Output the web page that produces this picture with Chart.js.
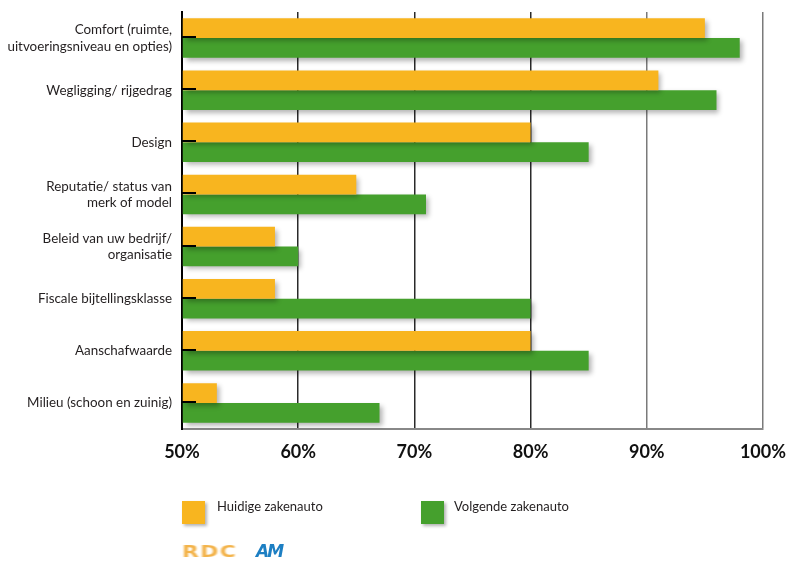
<!DOCTYPE html>
<html lang="nl">
<head>
<meta charset="utf-8">
<title>Zakenauto keuzefactoren</title>
<script src="https://cdn.jsdelivr.net/npm/chart.js@4/dist/chart.umd.min.js"></script>
<style>
    html, body { margin: 0; padding: 0; background: #fff; }
    #wrap { position: relative; width: 786px; height: 561px; }
    #chart { position: absolute; left: 0; top: 0; }
    .legend-item { position: absolute; font: 13px Lato, sans-serif; color: #231f20; }
    .legend-box { position: absolute; width: 23px; height: 23px; box-shadow: 2px 2px 3px rgba(0,0,0,0.3); }
    .logo-rdc { position: absolute; left: 182px; top: 543px; font: 900 15px "DejaVu Sans", sans-serif; letter-spacing: 1px;
        color: #f3b34a; transform: scaleX(1.45); transform-origin: left top; filter: blur(0.6px); }
    .logo-am { position: absolute; left: 256px; top: 541px; font: italic 900 17px "DejaVu Sans", sans-serif;
        color: #1d7fc3; letter-spacing: -2px; }
</style>
</head>
<body>
<div id="wrap">
    <canvas id="chart" width="786" height="561"></canvas>
    <div class="legend-box" style="left:182px; top:501px; background:#f8b51f;"></div>
    <div class="legend-item" style="left:217px; top:498px;">Huidige zakenauto</div>
    <div class="legend-box" style="left:421px; top:501px; background:#45a02d;"></div>
    <div class="legend-item" style="left:454px; top:498px;">Volgende zakenauto</div>
    <div class="logo-rdc">RDC</div>
    <div class="logo-am">AM</div>
</div>
<script>
// Categorieën en percentages per zakenauto
const categories = [
    ['Comfort (ruimte,', 'uitvoeringsniveau en opties)'],
    'Wegligging/ rijgedrag',
    'Design',
    ['Reputatie/ status van', 'merk of model'],
    ['Beleid van uw bedrijf/', 'organisatie'],
    'Fiscale bijtellingsklasse',
    'Aanschafwaarde',
    'Milieu (schoon en zuinig)'
];
const huidige = [95, 91, 80, 65, 58, 58, 80, 53];
const volgende = [98, 96, 85, 71, 60, 80, 85, 67];
const axisTicks = [50, 60, 70, 80, 90, 100];

const YELLOW = '#f8b51f';
const GREEN = '#45a02d';

// Zachte schaduw onder de balken
const barShadow = {
    id: 'barShadow',
    beforeDatasetsDraw(chart) {
        const ctx = chart.ctx;
        ctx.save();
        ctx.shadowColor = 'rgba(0, 0, 0, 0.3)';
        ctx.shadowBlur = 5;
        ctx.shadowOffsetX = 3;
        ctx.shadowOffsetY = 3;
    },
    afterDatasetsDraw(chart) {
        chart.ctx.restore();
    }
};

// Korte streepjes op de y-as tussen de twee balken
const innerTicks = {
    id: 'innerTicks',
    afterDatasetsDraw(chart) {
        const ctx = chart.ctx;
        const yScale = chart.scales.y;
        const left = chart.chartArea.left;
        ctx.save();
        ctx.strokeStyle = '#000';
        ctx.lineWidth = 2;
        yScale.ticks.forEach((t, i) => {
            const y = Math.round(yScale.getPixelForTick(i)) - 1;
            ctx.beginPath();
            ctx.moveTo(left, y);
            ctx.lineTo(left + 14, y);
            ctx.stroke();
        });
        ctx.restore();
    }
};

const ctx = document.getElementById('chart').getContext('2d');
new Chart(ctx, {
    type: 'bar',
    data: {
        labels: categories,
        datasets: [{
            label: 'Huidige zakenauto',
            data: huidige,
            backgroundColor: YELLOW,
            borderWidth: 0,
            base: 50
        }, {
            label: 'Volgende zakenauto',
            data: volgende,
            backgroundColor: GREEN,
            borderWidth: 0,
            base: 50
        }]
    },
    options: {
        indexAxis: 'y',
        responsive: false,
        animation: false,
        layout: {
            padding: { top: 12, right: 23, left: 0, bottom: 0 }
        },
        datasets: {
            bar: {
                barPercentage: 1,
                categoryPercentage: 0.76
            }
        },
        plugins: {
            legend: { display: false },
            tooltip: { enabled: false }
        },
        scales: {
            x: {
                min: axisTicks[0],
                max: axisTicks[axisTicks.length - 1],
                afterBuildTicks: function (scale) {
                    scale.ticks = axisTicks.map(v => ({ value: v }));
                },
                afterFit: function (scale) {
                    scale.height = 561 - 429;
                },
                grid: {
                    drawTicks: true,
                    tickLength: 12,
                    tickColor: 'rgba(0,0,0,0)',
                    lineWidth: 1.5,
                    color: function (c) {
                        return c.tick && c.tick.value >= 90 ? '#7a7a7a' : '#2a2a2a';
                    }
                },
                border: { color: '#888', width: 2 },
                ticks: {
                    padding: 0,
                    color: '#111',
                    font: { family: 'Lato', size: 18, weight: 'bold' },
                    callback: v => v + '%'
                }
            },
            y: {
                afterFit: function (scale) {
                    scale.width = 182;
                },
                grid: {
                    display: true,
                    drawOnChartArea: false,
                    drawTicks: true,
                    tickLength: 10,
                    tickColor: 'rgba(0,0,0,0)'
                },
                border: { color: '#000', width: 2 },
                ticks: {
                    padding: 0,
                    color: '#231f20',
                    font: { family: 'Lato', size: 13.4, lineHeight: 1.22 }
                }
            }
        }
    },
    plugins: [barShadow, innerTicks]
});
</script>
</body>
</html>
